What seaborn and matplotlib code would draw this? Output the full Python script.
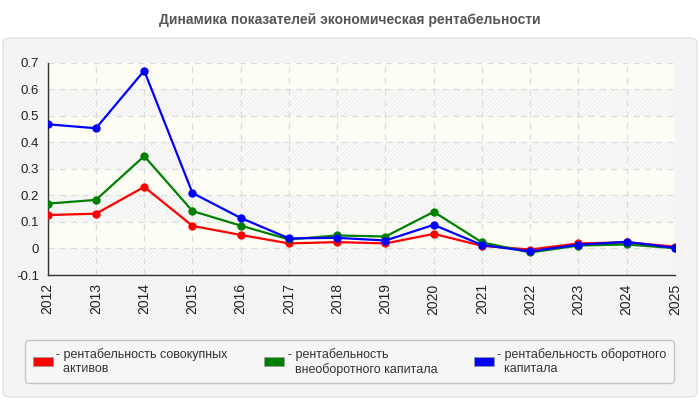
import pandas as pd
import numpy as np
import matplotlib
matplotlib.use('Agg')
import matplotlib.pyplot as plt
import seaborn as sns
from matplotlib.patches import FancyBboxPatch, Patch

# Data

years = [2012, 2013, 2014, 2015, 2016, 2017, 2018, 2019, 2020, 2021, 2022, 2023, 2024, 2025]
assets_roa = [0.126, 0.131, 0.232, 0.085, 0.051, 0.019, 0.024, 0.019, 0.055, 0.010, -0.004, 0.019, 0.023, 0.007]
noncurrent_ro = [0.169, 0.183, 0.348, 0.141, 0.086, 0.034, 0.049, 0.045, 0.138, 0.023, -0.015, 0.011, 0.015, 0.001]
current_ro = [0.468, 0.453, 0.670, 0.209, 0.115, 0.038, 0.040, 0.030, 0.089, 0.013, -0.011, 0.014, 0.025, 0.002]

series_names = ['рентабельность совокупных активов',
                'рентабельность внеоборотного капитала',
                'рентабельность оборотного капитала']
legend_labels = ['- рентабельность совокупных\n  активов',
                 '- рентабельность\n  внеоборотного капитала',
                 '- рентабельность оборотного\n  капитала']
colors = ['#ff0000', '#008000', '#0000ff']
y_ticks = [-0.1, 0, 0.1, 0.2, 0.3, 0.4, 0.5, 0.6, 0.7]
title = 'Динамика показателей экономическая рентабельности'


# Build long-form table

df = pd.DataFrame({
    'year': years * 3,
    'value': assets_roa + noncurrent_ro + current_ro,
    'series': [series_names[0]] * len(years) + [series_names[1]] * len(years) + [series_names[2]] * len(years),
})


# Figure

sns.set_style('white')
plt.rcParams['font.family'] = ['Liberation Sans', 'DejaVu Sans']
plt.rcParams['hatch.linewidth'] = 0.6

fig = plt.figure(figsize=(7, 4), dpi=100)
fig.patch.set_facecolor('white')

# outer grey panel
panel = FancyBboxPatch((3 / 700, 3 / 400), 694 / 700, 359 / 400,
                       boxstyle='round,pad=0,rounding_size=0.012',
                       transform=fig.transFigure, facecolor='#f4f4f4',
                       edgecolor='#e2e2e2', linewidth=1, zorder=-10)
fig.patches.append(panel)

fig.text(0.5, 1 - 20 / 400, title, ha='center', va='center',
         fontsize=10, fontweight='bold', color='#555555')

ax = fig.add_axes([47.7 / 700, 125 / 400, (675 - 47.7) / 700, (275 - 62.7) / 400])
ax.set_zorder(1)
ax.set_facecolor('#fdfdf6')

# hatched / plain bands behind the plot
for i, lo in enumerate(y_ticks[:-1]):
    if i % 2 == 0:
        ax.axhspan(lo, lo + 0.1, facecolor='#fafaf8', edgecolor='#ececec',
                   hatch='////////', linewidth=0, zorder=0)

sns.lineplot(data=df, x='year', y='value', hue='series', palette=colors,
             marker='o', markersize=6, markeredgewidth=0, linewidth=1.6,
             ax=ax, legend=False, zorder=3)

ax.set_xlim(years[0], years[-1])
ax.set_ylim(-0.1, 0.7)
ax.set_xticks(years)
ax.set_xticklabels([str(y) for y in years], rotation=90, fontsize=10)
ax.set_yticks(y_ticks)
ax.set_yticklabels([f'{t:g}' for t in y_ticks], fontsize=9.5)
ax.grid(True, color='#dddddd', linestyle=(0, (5, 4)), linewidth=0.9)
ax.set_axisbelow(True)
ax.set_xlabel('')
ax.set_ylabel('')

for side in ['top', 'right']:
    ax.spines[side].set_visible(False)
for side in ['left', 'bottom']:
    ax.spines[side].set_color('#333333')
    ax.spines[side].set_linewidth(1)
ax.tick_params(axis='both', direction='out', length=4, width=1, color='#333333',
               labelcolor='#222222', pad=2)


# Legend

handles = [Patch(facecolor=c, edgecolor='#999999', linewidth=0.5) for c in colors]
leg = fig.legend(handles, legend_labels, loc='lower left', ncol=3,
                 bbox_to_anchor=(25 / 700, 17 / 400, 649 / 700, 54 / 400),
                 mode='expand', frameon=True, fontsize=9, handlelength=1.6,
                 handleheight=0.7, handletextpad=0.3, columnspacing=1.0,
                 borderaxespad=0, borderpad=0.6, labelcolor='#333333')
leg.get_frame().set_facecolor('#f7f7f7')
leg.get_frame().set_edgecolor('#bbbbbb')
leg.get_frame().set_boxstyle('round,pad=0,rounding_size=0.3')
leg._legend_box.align = 'left'

fig.savefig('out.png', dpi=100, facecolor=fig.get_facecolor())
